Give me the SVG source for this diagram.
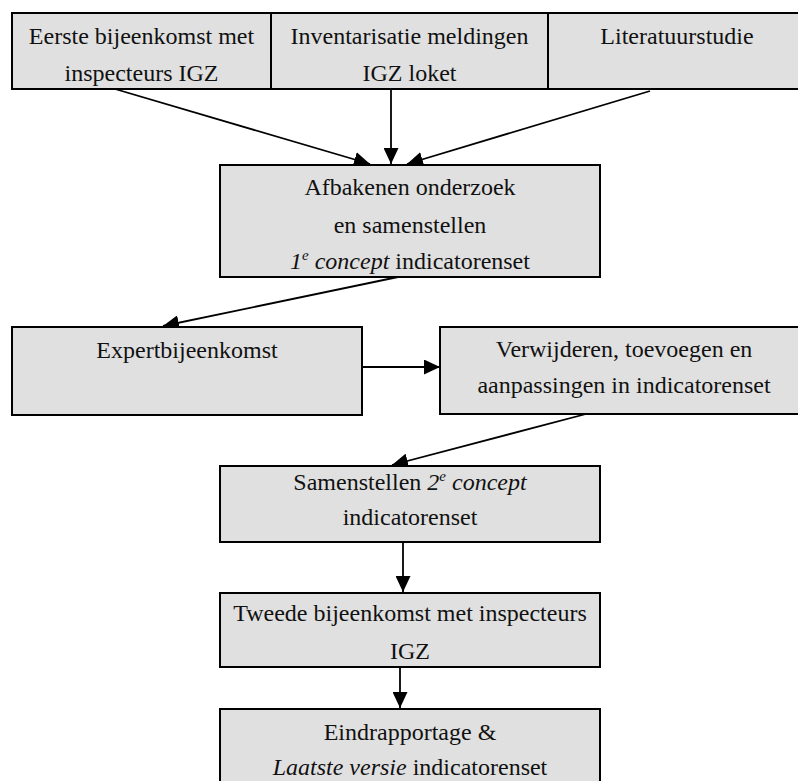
<svg xmlns="http://www.w3.org/2000/svg" width="798" height="781" viewBox="0 0 798 781">
<style>
.box{fill:#e0e0e0;stroke:#000;stroke-width:2}
.t{font-family:'Liberation Serif',Tinos,'Times New Roman',Times,'Noto Serif','DejaVu Serif',serif;font-size:24px;fill:#111;text-anchor:middle}
.i{font-style:italic}
.sup{font-size:15px;font-style:italic}
.c{stroke:#000;stroke-width:1.8;fill:none;marker-end:url(#ah)}
</style>
<defs>
<marker id="ah" markerUnits="userSpaceOnUse" markerWidth="17" markerHeight="15" refX="16" refY="7.5" orient="auto">
<path d="M0,0 L16,7.5 L0,15 z" fill="#000"/>
</marker>
</defs>
<rect width="798" height="781" fill="#fff"/>
<g id="connectors">
<line class="c" x1="115" y1="89" x2="370" y2="164"/>
<line class="c" x1="391" y1="89" x2="391" y2="164"/>
<line class="c" x1="650" y1="91" x2="407" y2="164"/>
<line class="c" x1="398" y1="277" x2="163" y2="326"/>
<line class="c" x1="362" y1="367" x2="440" y2="367"/>
<line class="c" x1="586" y1="414" x2="392" y2="465"/>
<line class="c" x1="403" y1="542" x2="403" y2="592"/>
<line class="c" x1="400" y1="667" x2="400" y2="708"/>
</g>
<g id="n1">
<rect class="box" x="12" y="13" width="259" height="76"/>
<text class="t" x="141.5" y="44">Eerste bijeenkomst met</text>
<text class="t" x="141.5" y="81">inspecteurs IGZ</text>
</g>
<g id="n2">
<rect class="box" x="271" y="13" width="277" height="76"/>
<text class="t" x="409.5" y="44">Inventarisatie meldingen</text>
<text class="t" x="409.5" y="81">IGZ loket</text>
</g>
<g id="n3">
<rect class="box" x="548" y="13" width="262" height="76"/>
<text class="t" x="677" y="44">Literatuurstudie</text>
</g>
<g id="n4">
<rect class="box" x="220" y="165" width="380" height="112"/>
<text class="t" x="410" y="195">Afbakenen onderzoek</text>
<text class="t" x="410" y="233">en samenstellen</text>
<text class="t" x="410" y="269"><tspan class="i">1</tspan><tspan class="sup" dy="-9">e</tspan><tspan class="i" dy="9"> concept</tspan> indicatorenset</text>
</g>
<g id="n5">
<rect class="box" x="12" y="327" width="350" height="88"/>
<text class="t" x="187" y="358">Expertbijeenkomst</text>
</g>
<g id="n6">
<rect class="box" x="440" y="327" width="370" height="87"/>
<text class="t" x="624" y="357">Verwijderen, toevoegen en</text>
<text class="t" x="624" y="393">aanpassingen in indicatorenset</text>
</g>
<g id="n7">
<rect class="box" x="220" y="466" width="380" height="76"/>
<text class="t" x="410" y="490">Samenstellen <tspan class="i">2</tspan><tspan class="sup" dy="-9">e</tspan><tspan class="i" dy="9"> concept</tspan></text>
<text class="t" x="410" y="525">indicatorenset</text>
</g>
<g id="n8">
<rect class="box" x="220" y="593" width="380" height="74"/>
<text class="t" x="410" y="621">Tweede bijeenkomst met inspecteurs</text>
<text class="t" x="410" y="659">IGZ</text>
</g>
<g id="n9">
<rect class="box" x="220" y="709" width="380" height="90"/>
<text class="t" x="410" y="740">Eindrapportage &amp;</text>
<text class="t" x="410" y="775"><tspan class="i">Laatste versie</tspan> indicatorenset</text>
</g>
</svg>
